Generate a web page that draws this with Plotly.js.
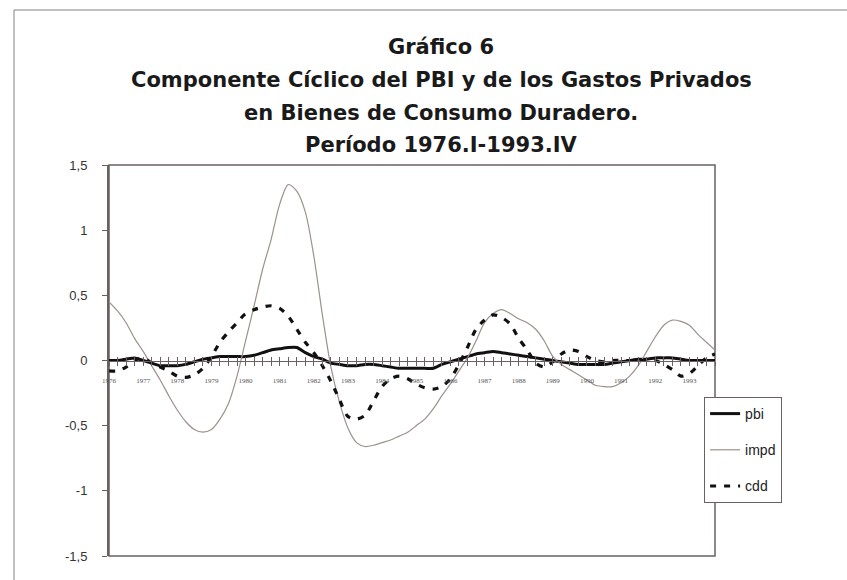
<!DOCTYPE html>
<html>
<head>
<meta charset="utf-8">
<script src="https://cdn.plot.ly/plotly-3.0.1.min.js"></script>
<style>html,body{margin:0;padding:0;background:#fff;}#chart{width:847px;height:580px;}</style>
</head>
<body>
<div id="chart"></div>
<script>
// Quarters 1976.I - 1993.IV
const years = ['1976','1977','1978','1979','1980','1981','1982','1983','1984','1985','1986','1987','1988','1989','1990','1991','1992','1993'];
const quarterNames = ['I','II','III','IV'];
const categories = [];
years.forEach(y => quarterNames.forEach(q => categories.push(y + '.' + q)));

const pbi = [0.00,0.00,0.01,0.02,0.00,-0.02,-0.04,-0.04,-0.04,-0.03,-0.01,0.01,0.02,0.03,0.03,0.03,
  0.03,0.04,0.06,0.08,0.09,0.10,0.10,0.06,0.03,0.01,-0.02,-0.03,-0.04,-0.04,-0.03,-0.03,
  -0.04,-0.05,-0.06,-0.06,-0.06,-0.06,-0.06,-0.03,-0.01,0.01,0.03,0.05,0.06,0.07,0.06,0.05,
  0.04,0.03,0.02,0.01,0.00,-0.01,-0.02,-0.03,-0.03,-0.03,-0.03,-0.02,-0.01,0.00,0.01,0.01,
  0.02,0.02,0.02,0.01,0.00,0.00,0.00,0.00];
const impd = [0.45,0.38,0.29,0.17,0.07,-0.04,-0.15,-0.27,-0.38,-0.47,-0.53,-0.55,-0.53,-0.45,-0.33,-0.12,
  0.15,0.42,0.70,0.93,1.20,1.35,1.30,1.14,0.80,0.35,-0.05,-0.32,-0.52,-0.63,-0.66,-0.65,
  -0.63,-0.61,-0.58,-0.55,-0.50,-0.45,-0.37,-0.27,-0.18,-0.08,0.02,0.15,0.29,0.36,0.39,0.36,
  0.32,0.29,0.24,0.15,0.03,-0.03,-0.07,-0.11,-0.15,-0.19,-0.20,-0.20,-0.17,-0.12,-0.04,0.07,
  0.18,0.27,0.31,0.30,0.27,0.20,0.14,0.08];
const cdd = [-0.08,-0.08,-0.05,0.00,0.02,-0.02,-0.05,-0.08,-0.12,-0.13,-0.11,-0.06,0.03,0.14,0.22,0.29,
  0.36,0.39,0.41,0.42,0.40,0.34,0.24,0.14,0.06,-0.04,-0.16,-0.30,-0.43,-0.45,-0.42,-0.31,
  -0.20,-0.14,-0.12,-0.14,-0.18,-0.21,-0.22,-0.20,-0.14,-0.03,0.10,0.24,0.31,0.35,0.33,0.28,
  0.17,0.08,-0.02,-0.05,-0.01,0.05,0.08,0.07,0.03,0.00,-0.01,0.00,0.00,0.00,0.00,0.00,
  0.00,-0.03,-0.07,-0.12,-0.10,-0.04,0.02,0.05];
const yTickVals = [-1.5,-1,-0.5,0,0.5,1,1.5];
const yTickText = ['-1,5','-1','-0,5','0','0,5','1','1,5'];
const titleLines = ['Gráfico 6','Componente Cíclico del PBI y de los Gastos Privados','en Bienes de Consumo Duradero.','Período 1976.I-1993.IV'];

const xIdx = categories.map((c, i) => i);
const xTickText = categories.map(c => c.endsWith('.I') ? c.split('.')[0] : '');

const axisColor = '#6b6060';
const traces = [
  {x: xIdx, y: pbi, text: categories, name: 'pbi', type: 'scatter', mode: 'lines', legendgroup: 'a',
   line: {color: '#111', width: 3, shape: 'spline', smoothing: 0.6}},
  {x: xIdx, y: impd, text: categories, name: 'impd', type: 'scatter', mode: 'lines', legendgroup: 'b',
   line: {color: '#9c918c', width: 1.2, shape: 'spline', smoothing: 0.8}},
  {x: xIdx, y: cdd, text: categories, name: 'cdd', type: 'scatter', mode: 'lines', legendgroup: 'c',
   line: {color: '#111', width: 3.2, dash: '6px,8px', shape: 'spline', smoothing: 0.8}}
];

const titleFont = {family: 'DejaVu Sans, Liberation Sans, Arial, sans-serif', size: 21, color: '#1a1a1a', weight: 'bold'};
const lineY = [47, 80, 113, 145];
const plotTop = 165, plotBottom = 556;
const toPaperY = py => (plotBottom - py) / (plotBottom - plotTop);

const annotations = titleLines.slice(1).map((t, k) => ({
  text: '<b>' + t + '</b>', xref: 'paper', yref: 'paper', x: 0.548, y: toPaperY(lineY[k + 1]),
  xanchor: 'center', yanchor: 'middle', showarrow: false, font: titleFont
}));

const layout = {
  width: 847, height: 580,
  margin: {l: 109, r: 132, t: 165, b: 24},
  paper_bgcolor: '#fff', plot_bgcolor: '#fff',
  separators: ',.',
  showlegend: true,
  title: {text: '<b>' + titleLines[0] + '</b>', x: 0.548, xref: 'paper', xanchor: 'center',
          y: 1 - lineY[0] / 580, yref: 'container', yanchor: 'middle', font: titleFont},
  xaxis: {
    range: [0, 71], anchor: 'free', position: 0.5,
    tickvals: xIdx, ticktext: xTickText, ticks: 'outside', ticklen: 4, tickcolor: axisColor, tickwidth: 1,
    ticklabelstandoff: 9,
    showline: true, linecolor: axisColor, linewidth: 1, showgrid: false, zeroline: false,
    tickfont: {family: 'Liberation Serif, Times New Roman, serif', size: 7, color: '#555'}
  },
  xaxis2: {
    overlaying: 'x', matches: 'x', anchor: 'free', position: 0.5,
    tickvals: xIdx, ticks: 'inside', ticklen: 4, tickcolor: axisColor, tickwidth: 1,
    showticklabels: false, showline: false, showgrid: false, zeroline: false
  },
  yaxis: {
    range: [-1.5, 1.5], tickvals: yTickVals, ticktext: yTickText,
    ticks: 'outside', ticklen: 5, tickcolor: axisColor, ticklabelstandoff: 12,
    showline: true, linecolor: axisColor, linewidth: 2, showgrid: false, zeroline: false,
    tickfont: {family: 'Liberation Sans, Arial, sans-serif', size: 13, color: '#333'}
  },
  legend: {
    x: 0.982, y: toPaperY(397), xanchor: 'left', yanchor: 'top',
    bgcolor: '#fff', bordercolor: axisColor, borderwidth: 1,
    font: {family: 'Liberation Sans, Arial, sans-serif', size: 14, color: '#222'},
    tracegroupgap: 15, traceorder: 'grouped'
  },
  shapes: [
    {type: 'rect', xref: 'paper', yref: 'paper', x0: 0, x1: 1, y0: 0, y1: 1,
     line: {color: axisColor, width: 1.5}, layer: 'below'},
    {type: 'rect', xref: 'paper', yref: 'paper', x0: (14 - 109) / 606, x1: 1.3, y0: -0.2, y1: toPaperY(10),
     line: {color: '#8a8080', width: 1}, layer: 'below'}
  ],
  annotations: annotations
};

// invisible helper trace binding the overlay axis that carries the upper half of the crossing ticks
traces.push({x: [0, 71], y: [0, 0], xaxis: 'x2', mode: 'lines', line: {width: 0}, hoverinfo: 'skip', showlegend: false});

Plotly.newPlot('chart', traces, layout, {displayModeBar: false, staticPlot: true});
</script>
</body>
</html>
